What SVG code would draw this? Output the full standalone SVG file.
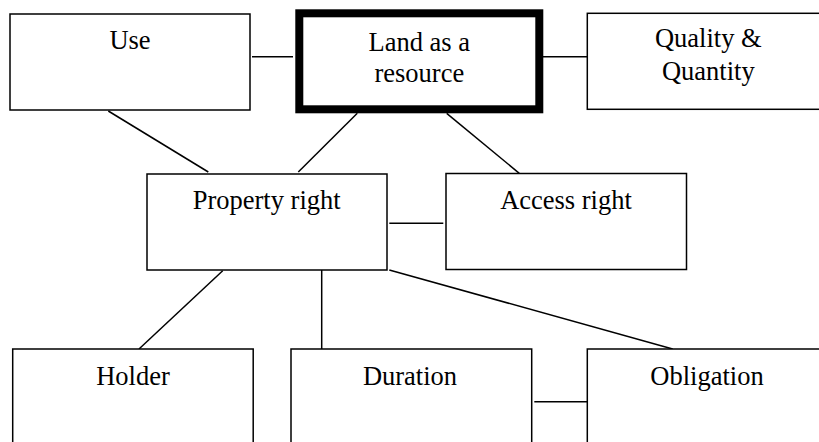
<svg xmlns="http://www.w3.org/2000/svg" width="819" height="442" viewBox="0 0 819 442">
<style>
.box{fill:#fff;stroke:#000;stroke-width:1.5}
.main{fill:#fff;stroke:#000;stroke-width:8}
text{font-family:'Times New Roman',Times,'Liberation Serif','DejaVu Serif','Noto Serif',serif;font-size:26.5px;fill:#000;text-anchor:middle}
.c line{stroke:#000;stroke-width:1.5}
</style>
<rect width="819" height="442" fill="#fff"/>
<g class="c" id="connectors">
<line x1="252" y1="56.7" x2="293" y2="56.7"/>
<line x1="543" y1="56.7" x2="587" y2="56.7"/>
<line x1="108.3" y1="111" x2="208.3" y2="172"/>
<line x1="357.3" y1="113.3" x2="298.3" y2="172"/>
<line x1="446.7" y1="113.3" x2="519.3" y2="173.3"/>
<line x1="389.3" y1="223.3" x2="443.3" y2="223.3"/>
<line x1="222.7" y1="270.7" x2="139" y2="349"/>
<line x1="321.7" y1="270" x2="321.7" y2="349"/>
<line x1="389.3" y1="270" x2="672.7" y2="349"/>
<line x1="534.3" y1="401.7" x2="589" y2="401.7"/>
</g>
<g id="use"><rect class="box" x="10" y="14" width="240" height="96"/><text x="130" y="49.3">Use</text></g>
<g id="land"><rect class="main" x="299.3" y="13.3" width="240" height="96"/><text x="419.3" y="50.7">Land as a</text><text x="419.3" y="81.7">resource</text></g>
<g id="quality"><rect class="box" x="587.3" y="13.3" width="240" height="96"/><text x="708.3" y="47">Quality &amp;</text><text x="708.3" y="79.5">Quantity</text></g>
<g id="property"><rect class="box" x="147" y="174" width="240" height="96"/><text x="266.7" y="209.3">Property right</text></g>
<g id="access"><rect class="box" x="446" y="173.5" width="240.5" height="96"/><text x="566" y="209.3">Access right</text></g>
<g id="holder"><rect class="box" x="12.7" y="349" width="240.5" height="110"/><text x="133" y="385">Holder</text></g>
<g id="duration"><rect class="box" x="291" y="349" width="240.7" height="110"/><text x="410" y="385">Duration</text></g>
<g id="obligation"><rect class="box" x="587.3" y="349" width="240" height="110"/><text x="707" y="385">Obligation</text></g>
</svg>
